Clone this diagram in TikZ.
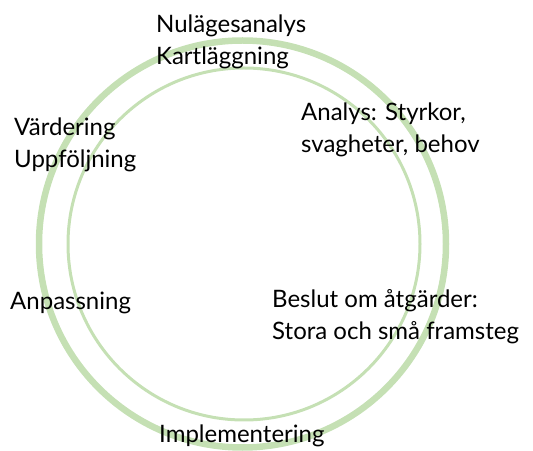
\documentclass[tikz,border=0pt]{standalone}
\usepackage{fontspec}
\setmainfont{Lato}
\usetikzlibrary{positioning}
\definecolor{ringgreen}{RGB}{197,224,180}

\begin{document}
\begin{tikzpicture}[
  x=1pt, y=1pt,
  ring/.style  = {draw=ringgreen},
  step label/.style = {anchor=base west, align=left, inner sep=0pt,
                       font=\fontsize{24}{32}\selectfont},
  ]
  \useasboundingbox (0,0) rectangle (533,450);
  % the two rings
  \draw[ring, line width=6.5pt] (242.5,206) circle (203.5);
  \draw[ring, line width=3pt]   (244,206)   circle (176);
  % steps of the cycle
  \node[step label] (nulage)  at (156,385) {Nulägesanalys\\Kartläggning};
  \node[step label] (analys)  at (301,297) {Analys: Styrkor,\\svagheter, behov};
  \node[step label] (beslut)  at (272,110) {Beslut om åtgärder:\\Stora och små framsteg};
  \node[step label] (impl)    at (159,8)   {Implementering};
  \node[step label] (anpass)  at (10,140)  {Anpassning};
  \node[step label] (varde)   at (14,282)  {Värdering\\Uppföljning};
\end{tikzpicture}
\end{document}
